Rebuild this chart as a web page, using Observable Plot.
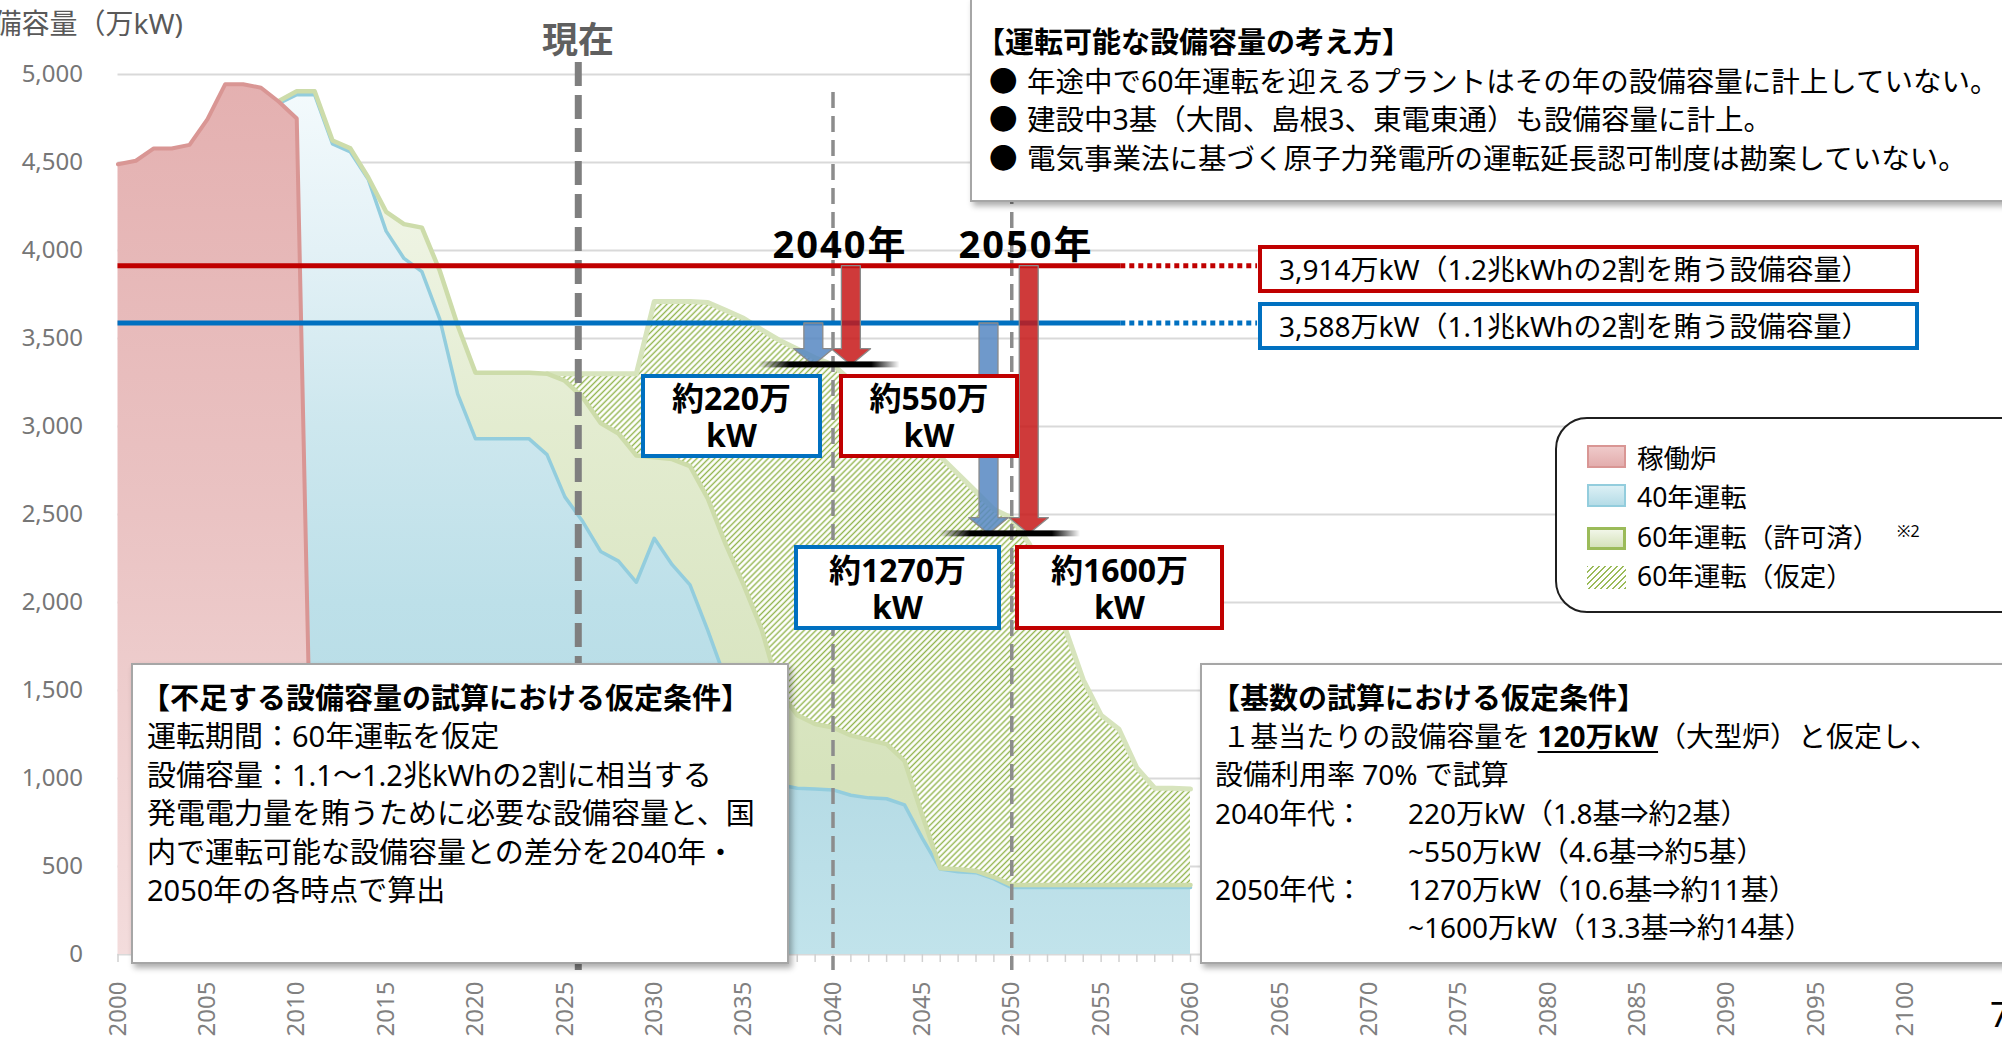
<!DOCTYPE html>
<html lang="ja">
<head>
<meta charset="utf-8">
<script src="https://cdn.jsdelivr.net/npm/d3@7"></script>
<script src="https://cdn.jsdelivr.net/npm/@observablehq/plot@0.6"></script>
<style>
  html,body{margin:0;padding:0;background:#fff;}
  #wrap{position:relative;width:2002px;height:1041px;overflow:hidden;background:#fff;
    font-family:"Noto Sans","Noto Sans CJK JP",sans-serif;color:#000;}
  #wrap > svg{position:absolute;left:0;top:0;}
  .abs{position:absolute;white-space:nowrap;}
  .panel{position:absolute;box-sizing:border-box;background:#fff;border:2px solid #a6a6a6;
    box-shadow:3px 4px 6px rgba(0,0,0,0.32);white-space:nowrap;}
  .vbox{position:absolute;box-sizing:border-box;background:#fff;border:4px solid;font-weight:700;
    font-size:32px;line-height:37px;text-align:center;display:flex;flex-direction:column;
    justify-content:center;white-space:nowrap;}
  .lbox{position:absolute;box-sizing:border-box;background:#fff;border:4px solid;font-size:28px;
    line-height:40px;padding-left:17px;white-space:nowrap;}
  .sw{position:absolute;box-sizing:border-box;width:39px;height:23px;}
  .lt{position:absolute;font-size:26.5px;line-height:38px;white-space:nowrap;}
</style>
</head>
<body>
<div id="wrap"></div>
<script>
// ---------------- data ----------------
const opYears   = [2000,2001,2002,2003,2004,2005,2006,2007,2008,2009,2010,2011];
const operating = [4490,4510,4580,4580,4600,4745,4945,4945,4925,4845,4750,0];

const years = [2009,2010,2011,2012,2013,2014,2015,2016,2017,2018,2019,2020,2021,2022,2023,2024,
  2025,2026,2027,2028,2029,2030,2031,2032,2033,2034,2035,2036,2037,2038,2039,2040,2041,2042,2043,
  2044,2045,2046,2047,2048,2049,2050,2051,2052,2053,2054,2055,2056,2057,2058,2059,2060];

// 40年運転
const run40 = [4835,4885,4885,4605,4560,4405,4110,3955,3880,3610,3185,2930,2930,2930,2930,2840,
  2600,2460,2290,2235,2115,2365,2215,2100,1840,1560,1250,1060,965,945,940,935,905,890,885,
  850,660,485,470,465,430,380,380,380,380,380,380,380,380,380,380,380];

// 60年運転（許可済）
const run60Approved = [4850,4905,4905,4625,4580,4415,4220,4150,4130,3885,3575,3305,3305,3305,3305,3300,
  3260,3165,3020,2960,2835,2825,2815,2775,2590,2330,2100,1850,1500,1360,1310,1290,1245,1220,1195,
  1100,790,490,485,475,440,395,395,395,395,395,395,395,395,395,395,395];

// 60年運転（仮定）
const run60Assumed = [null,null,null,null,null,null,null,null,null,null,null,null,null,null,null,3300,
  3300,3300,3300,3300,3300,3710,3710,3710,3705,3660,3615,3550,3490,3440,3390,3350,3260,3170,3080,
  2990,2905,2830,2730,2630,2530,2480,2330,2100,1850,1560,1360,1280,1060,945,945,940];

const targetNames  = ["1.2兆kWh", "1.1兆kWh"];
const targetValues = [3914, 3588];

const arrowYears = [2038.9, 2041.0, 2048.7, 2050.95];
const arrowFrom  = ["1.1兆kWh", "1.2兆kWh", "1.1兆kWh", "1.2兆kWh"];
const arrowTo    = [3350, 3350, 2390, 2390];

const barYears  = [2039.8, 2049.9];
const barValues = [3350, 2390];

const markerYears = [2040, 2050];
const nowYear = 2025.75;

const xTickYears  = [2000,2005,2010,2015,2020,2025,2030,2035,2040,2045,2050,2055,2060,2065,2070,2075,2080,2085,2090,2095,2100];
const yTickValues = [0,500,1000,1500,2000,2500,3000,3500,4000,4500,5000];

// ---------------- styles ----------------
const LINE_COLOR  = {"1.2兆kWh": "#c00000", "1.1兆kWh": "#0070c0"};
const ARROW_COLOR = {"1.2兆kWh": "#c71818", "1.1兆kWh": "#5687c2"};
const SOLID_TO = 2056.1, DOT_TO = 2063.75;
const SHAFT = 0.53, HEAD = 1.1, HEAD_H = 92, BAR_HALF = 3.95, BAR_T = 17;

// ---------------- tables ----------------
const opRows = opYears.map((year, i) => ({year, v: operating[i]}));
const rows = years.map((year, i) => ({year, c40: run40[i], c60: run60Approved[i], c60a: run60Assumed[i]}));
const assumedRows = rows.filter(d => d.c60a != null);
const targetRows = targetNames.map((k, i) => ({k, v: targetValues[i]}));
const targetOf = k => targetValues[targetNames.indexOf(k)];
const minorYears = d3.range(2000, 2101);

function arrowPoly(i) {
  const c = arrowYears[i], f = targetOf(arrowFrom[i]), t = arrowTo[i];
  return [[c - SHAFT, f], [c + SHAFT, f], [c + SHAFT, t + HEAD_H], [c + HEAD, t + HEAD_H], [c, t],
          [c - HEAD, t + HEAD_H], [c - SHAFT, t + HEAD_H]];
}

function defs(index, scales) {
  const top = scales && scales.y ? scales.y(5000) : 74;
  const bot = scales && scales.y ? scales.y(0) : 954;
  const el = document.createElementNS("http://www.w3.org/2000/svg", "defs");
  el.innerHTML = `
   <linearGradient id="gPink" gradientUnits="userSpaceOnUse" x1="0" x2="0" y1="${top}" y2="${bot}">
     <stop offset="0" stop-color="#e4b0b0"/><stop offset="0.5" stop-color="#eac3c3"/><stop offset="1" stop-color="#f3dcdc"/>
   </linearGradient>
   <linearGradient id="gBlue" gradientUnits="userSpaceOnUse" x1="0" x2="0" y1="${top}" y2="${bot}">
     <stop offset="0" stop-color="#f5fbfd"/><stop offset="0.2" stop-color="#e3f1f6"/><stop offset="0.4" stop-color="#cde7ee"/>
     <stop offset="0.6" stop-color="#bde0e9"/><stop offset="0.8" stop-color="#b5dbe5"/><stop offset="1" stop-color="#c1e3eb"/>
   </linearGradient>
   <linearGradient id="gGreen" gradientUnits="userSpaceOnUse" x1="0" x2="0" y1="${top}" y2="${bot}">
     <stop offset="0" stop-color="#f5f8ee"/><stop offset="0.2" stop-color="#edf3e1"/><stop offset="0.4" stop-color="#e3ecd0"/>
     <stop offset="0.6" stop-color="#dce7c6"/><stop offset="0.8" stop-color="#d6e3bc"/><stop offset="1" stop-color="#d7e4bf"/>
   </linearGradient>
   <pattern id="hatch" patternUnits="userSpaceOnUse" width="4.2" height="4.2" patternTransform="rotate(45)">
     <rect width="4.2" height="4.2" fill="#ffffff"/>
     <line x1="2.1" y1="0" x2="2.1" y2="4.2" stroke="#93b650" stroke-width="1.4"/>
   </pattern>
   <linearGradient id="gBar" x1="0" x2="1" y1="0" y2="0">
     <stop offset="0" stop-color="#000" stop-opacity="0"/><stop offset="0.22" stop-color="#000" stop-opacity="1"/>
     <stop offset="0.8" stop-color="#000" stop-opacity="1"/><stop offset="1" stop-color="#000" stop-opacity="0"/>
   </linearGradient>`;
  return el;
}

const chart = Plot.plot({
  width: 2002, height: 1041,
  marginLeft: 117.5, marginRight: 97, marginTop: 74, marginBottom: 87,
  x: {domain: [2000, 2100], label: null},
  y: {domain: [0, 5000], label: null},
  style: {fontFamily: "'Noto Sans','Noto Sans CJK JP',sans-serif", background: "transparent"},
  marks: [
    defs,
    Plot.gridY(yTickValues, {stroke: "#d9d9d9", strokeOpacity: 1, strokeWidth: 2}),
    Plot.axisY({ticks: yTickValues, tickFormat: d3.format(","), tickSize: 0, tickPadding: 35,
                fontSize: 24, fill: "#767676", label: null}),
    Plot.axisX({ticks: xTickYears, tickFormat: d => String(d), tickRotate: -90, tickSize: 0, tickPadding: 27,
                fontSize: 24, fill: "#808080", label: null}),
    Plot.ruleX(minorYears, {x: d => d, y1: 0, y2: 0, insetBottom: -8, stroke: "#d0d0d0", strokeWidth: 1.5}),

    // areas
    Plot.areaY(assumedRows, {x: "year", y1: 0, y2: "c60a", fill: "url(#hatch)"}),
    Plot.lineY(assumedRows, {x: "year", y: "c60a", stroke: "#d7e4bd", strokeWidth: 5, strokeLinejoin: "round"}),
    Plot.areaY(rows, {x: "year", y1: 0, y2: "c60", fill: "url(#gGreen)"}),
    Plot.areaY(rows, {x: "year", y1: 0, y2: "c40", fill: "url(#gBlue)"}),
    Plot.lineY(rows, {x: "year", y: "c40", stroke: "#93cddd", strokeWidth: 3.5, strokeLinejoin: "round"}),
    Plot.lineY(rows, {x: "year", y: "c60", stroke: "#cddcaa", strokeWidth: 4.5, strokeLinejoin: "round"}),
    Plot.areaY(opRows, {x: "year", y1: 0, y2: "v", fill: "url(#gPink)"}),
    Plot.lineY(opRows, {x: "year", y: "v", stroke: "#d99694", strokeWidth: 4, strokeLinejoin: "round"}),

    // vertical markers
    Plot.ruleX(markerYears, {x: d => d, stroke: "#8c8c8c", strokeWidth: 3.5, strokeDasharray: "16,8",
                             insetTop: 18, insetBottom: -16}),
    Plot.ruleX([nowYear], {x: d => d, stroke: "#7f7f7f", strokeWidth: 7, strokeDasharray: "24,9",
                           insetTop: -12, insetBottom: -16}),

    // target lines
    ...targetRows.map(t => Plot.ruleY([t], {y: "v", x1: 2000, x2: SOLID_TO, stroke: LINE_COLOR[t.k], strokeWidth: 5})),
    ...targetRows.map(t => Plot.ruleY([t], {y: "v", x1: SOLID_TO, x2: DOT_TO, stroke: LINE_COLOR[t.k], strokeWidth: 5,
                                            strokeDasharray: "5,4"})),

    // arrows
    ...arrowYears.map((_, i) => Plot.line(arrowPoly(i), {x: d => d[0], y: d => d[1], curve: "linear-closed",
        fill: ARROW_COLOR[arrowFrom[i]], fillOpacity: 0.85, stroke: "#8a8a8a", strokeWidth: 1.3})),

    // base bars
    Plot.rect(barYears.map((x, i) => ({x, v: barValues[i]})),
      {x1: d => d.x - BAR_HALF, x2: d => d.x + BAR_HALF, y1: d => d.v - BAR_T, y2: d => d.v + BAR_T, fill: "url(#gBar)"})
  ]
});

const wrap = document.getElementById("wrap");
wrap.appendChild(chart);

const html = `
<div class="abs" style="right:1819px;top:4px;font-size:28px;line-height:38px;color:#595959;">設備容量（万kW)</div>
<div class="abs" style="left:578px;top:37px;transform:translate(-50%,-50%);font-size:36px;font-weight:700;color:#5f5f5f;">現在</div>
<div class="abs" style="left:840px;top:241px;transform:translate(-50%,-50%);font-size:38px;font-weight:700;letter-spacing:2px;">2040年</div>
<div class="abs" style="left:1026px;top:241px;transform:translate(-50%,-50%);font-size:38px;font-weight:700;letter-spacing:2px;">2050年</div>

<div class="panel" style="left:970px;top:-3px;width:1100px;height:205px;padding:24px 0 0 4px;font-size:28.5px;line-height:38.5px;">
  <div style="font-weight:700;font-size:29px;">【運転可能な設備容量の考え方】</div>
  <div style="padding-left:13px;"><span style="display:inline-block;width:38px;">●</span>年途中で60年運転を迎えるプラントはその年の設備容量に計上していない。</div>
  <div style="padding-left:13px;"><span style="display:inline-block;width:38px;">●</span>建設中3基（大間、島根3、東電東通）も設備容量に計上。</div>
  <div style="padding-left:13px;"><span style="display:inline-block;width:38px;">●</span>電気事業法に基づく原子力発電所の運転延長認可制度は勘案していない。</div>
</div>

<div class="lbox" style="left:1258px;top:245px;width:661px;height:48px;border-color:#c00000;">3,914万kW（1.2兆kWhの2割を賄う設備容量）</div>
<div class="lbox" style="left:1258px;top:302px;width:661px;height:48px;border-color:#0070c0;">3,588万kW（1.1兆kWhの2割を賄う設備容量）</div>

<div class="vbox" style="left:641px;top:374px;width:181px;height:84px;border-color:#0070c0;"><div>約220万</div><div>kW</div></div>
<div class="vbox" style="left:839px;top:374px;width:180px;height:84px;border-color:#c00000;"><div>約550万</div><div>kW</div></div>
<div class="vbox" style="left:794px;top:545px;width:207px;height:85px;border-color:#0070c0;"><div>約1270万</div><div>kW</div></div>
<div class="vbox" style="left:1015px;top:545px;width:209px;height:85px;border-color:#c00000;"><div>約1600万</div><div>kW</div></div>

<div style="position:absolute;left:1555px;top:417px;width:520px;height:196px;box-sizing:border-box;border:2.5px solid #1f1f1f;border-radius:32px;background:#fff;"></div>
<div class="sw" style="left:1587px;top:445px;background:linear-gradient(#efcaca,#e3adad);border:2px solid #d99694;"></div>
<div class="lt" style="left:1637px;top:439px;">稼働炉</div>
<div class="sw" style="left:1587px;top:484px;background:linear-gradient(#dcf0f5,#b5dce7);border:2px solid #93cddd;"></div>
<div class="lt" style="left:1637px;top:478px;">40年運転</div>
<div class="sw" style="left:1587px;top:527px;background:linear-gradient(#f1f6e8,#d5e2ba);border:3px solid #9bbb59;"></div>
<div class="lt" style="left:1637px;top:518px;">60年運転（許可済）</div>
<div class="abs" style="left:1897px;top:521px;font-size:16px;line-height:20px;">※2</div>
<div class="sw" style="left:1587px;top:566px;background:repeating-linear-gradient(135deg,#9bbb59 0px,#9bbb59 1.4px,#ffffff 1.4px,#ffffff 4.2px);"></div>
<div class="lt" style="left:1637px;top:557px;">60年運転（仮定）</div>

<div class="panel" style="left:131px;top:663px;width:658px;height:301px;padding:14px 0 0 14px;font-size:29px;line-height:38.4px;">
  <div style="font-weight:700;margin-left:-6px;">【不足する設備容量の試算における仮定条件】</div>
  <div>運転期間：60年運転を仮定</div>
  <div>設備容量：1.1～1.2兆kWhの2割に相当する</div>
  <div>発電電力量を賄うために必要な設備容量と、国</div>
  <div>内で運転可能な設備容量との差分を2040年・</div>
  <div>2050年の各時点で算出</div>
</div>

<div class="panel" style="left:1200px;top:663px;width:900px;height:301px;padding:14px 0 0 13px;font-size:28px;line-height:38.2px;">
  <div style="font-weight:700;font-size:29px;margin-left:-4px;">【基数の試算における仮定条件】</div>
  <div>&nbsp;１基当たりの設備容量を <b style="text-decoration:underline;text-underline-offset:4px;">120万kW</b>（大型炉）と仮定し、</div>
  <div>設備利用率 70% で試算</div>
  <div><span style="display:inline-block;width:193px;">2040年代：</span>220万kW（1.8基⇒約2基）</div>
  <div><span style="display:inline-block;width:193px;"></span>~550万kW（4.6基⇒約5基）</div>
  <div><span style="display:inline-block;width:193px;">2050年代：</span>1270万kW（10.6基⇒約11基）</div>
  <div><span style="display:inline-block;width:193px;"></span>~1600万kW（13.3基⇒約14基）</div>
</div>

<div class="abs" style="left:1990px;top:992px;font-size:34px;line-height:44px;">7</div>
`;
wrap.insertAdjacentHTML("beforeend", html);
</script>
</body>
</html>
